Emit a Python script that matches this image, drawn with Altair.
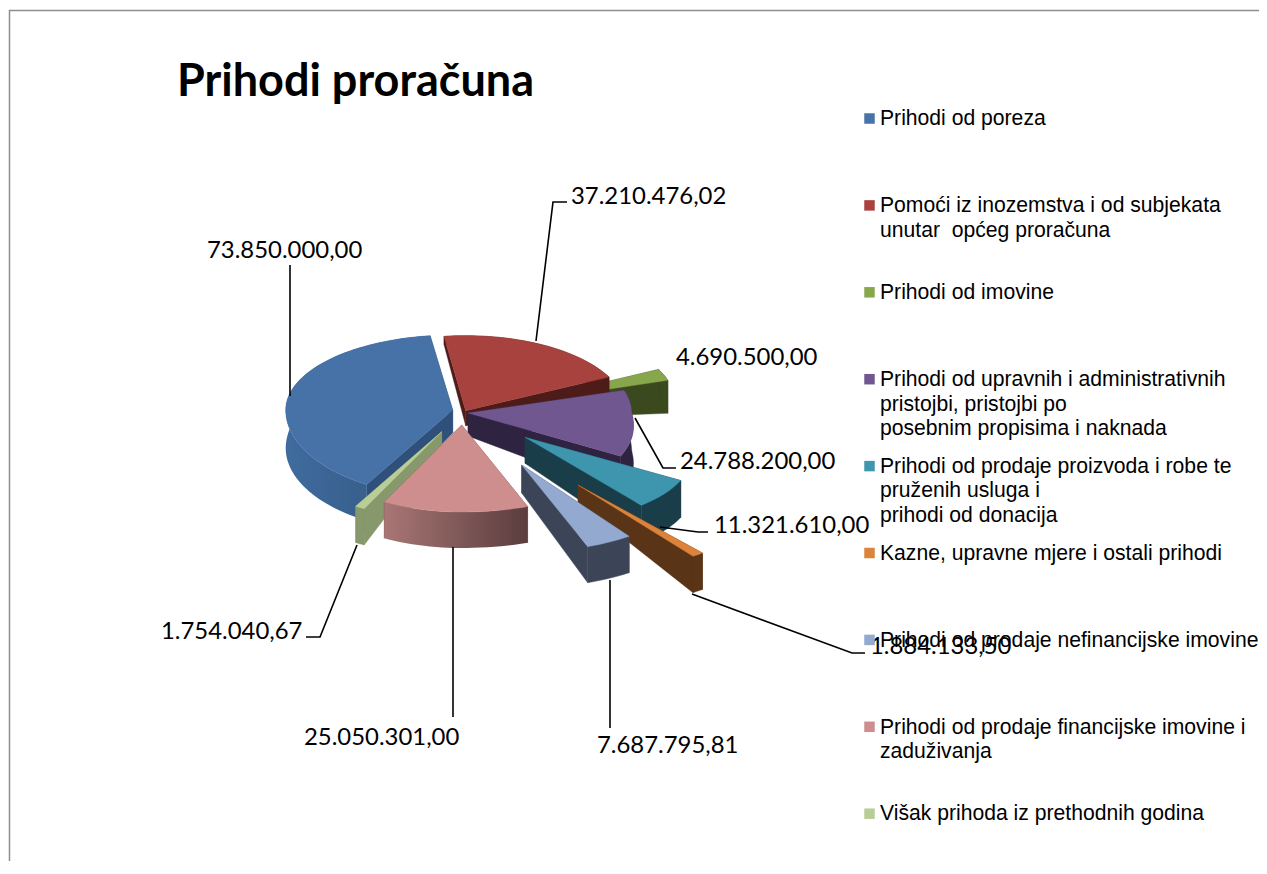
import math
import altair as alt
import pandas as pd

# ---- chart values ----
categories = [
    "Prihodi od poreza",
    "Pomoći iz inozemstva i od subjekata\nunutar\u00a0 općeg proračuna",
    "Prihodi od imovine",
    "Prihodi od upravnih i administrativnih\npristojbi, pristojbi po\nposebnim propisima i naknada",
    "Prihodi od prodaje proizvoda i robe te\npruženih usluga i\nprihodi od donacija",
    "Kazne, upravne mjere i ostali prihodi",
    "Prihodi od prodaje nefinancijske imovine",
    "Prihodi od prodaje financijske imovine i\nzaduživanja",
    "Višak prihoda iz prethodnih godina",
]
values = [73850000.00, 37210476.02, 4690500.00, 24788200.00, 11321610.00,
          1884133.50, 7687795.81, 25050301.00, 1754040.67]
labels = ["73.850.000,00", "37.210.476,02", "4.690.500,00", "24.788.200,00", "11.321.610,00",
          "1.884.133,50", "7.687.795,81", "25.050.301,00", "1.754.040,67"]
title_text = "Prihodi proračuna"

# ---- styles ----
top_colors = ["#4672A8", "#A8423F", "#88A64B", "#71578F", "#3D96AE", "#DC823A", "#93A9CF", "#CE8E8D", "#B9CD96"]
legend_colors = ["#4673A8", "#A9423F", "#88A64B", "#71578F", "#4096AE", "#DB843C", "#93A9CF", "#CE8E8D", "#B9CD96"]
wall_colors = ["#2F507A", "#4D1B18", "#3A4A1E", "#2E2340", "#1A3D4A", "#5A3417", "#3C4557", "#6B4A4A", "#86986C"]
rim_colors = [("#3F6B9E", "#33567F"), ("#4D1B18", "#4D1B18"), ("#3A4A1E", "#3A4A1E"), ("#2E2340", "#2E2340"),
              ("#1A3D4A", "#1A3D4A"), ("#5A3417", "#5A3417"), ("#3C4557", "#3C4557"), ("#A87675", "#5A3D3D"),
              ("#86986C", "#86986C")]
tips = [(452.7, 410), (465.7, 410.7), (516.7, 403), (468, 413), (525, 437.3),
        (578, 485), (521.7, 465), (461.7, 425), (441.7, 431.7)]
tip_depths = [23, 15, 16, 23, 26, 17, 28, 23, 12]
x_stretch = [1.0, 0.96, 0.95, 0.98, 1.0, 1.07, 1.0, 1.0, 1.0]
draw_order = [2, 1, 0, 3, 4, 5, 6, 8, 7]
first_angle = 211.0
label_pos = [(207, 251), (571, 197), (676, 358), (680, 462), (714, 526),
             (870, 647), (597, 746), (304, 738), (161, 632)]
leaders = [
    [(290, 265), (290, 396)],
    [(567, 202), (553, 202), (536, 341)],
    [(635, 418), (663, 468), (676, 468)],
    [(660, 527), (698, 532), (708, 532)],
    [(692, 594), (852, 653), (865, 653)],
    [(610, 580), (610, 728)],
    [(453, 547), (453, 717)],
    [(357, 545), (320, 637), (306, 637)],
]

W, H, M = 1251, 853, 8
RX, RY_UP, RY_DOWN = 167.0, 75.0, 87.0


def rim_pt(tip, deg, stretch):
    a = math.radians(deg)
    s, c = math.sin(a), math.cos(a)
    v = -c
    grow = 1 + 0.15 * max(0.0, v) if s > 0 else 1.0
    return (tip[0] + RX * s * grow * stretch, tip[1] + (RY_DOWN if v > 0 else RY_UP) * v)


def rim_depth(deg):
    v = -math.cos(math.radians(deg))
    return 38.0 - 2.0 * v if v >= 0 else 38.0 - 30.0 * abs(v) ** 1.5


def feature(points):
    ring = [[x - M, y - M] for x, y in points]
    ring.append(ring[0])
    return {"type": "Feature", "properties": {}, "geometry": {"type": "Polygon", "coordinates": [ring]}}


def poly(points, fill):
    stroke = fill if isinstance(fill, str) else None
    kw = {"stroke": stroke, "strokeWidth": 0.4} if stroke else {"strokeWidth": 0}
    return alt.Chart(alt.Data(values=[feature(points)])).mark_geoshape(fill=fill, **kw).project(
        type="identity", scale=1, translate=[0, 0])


total = sum(values)
spans = {}
angle = first_angle
for i, val in enumerate(values):
    sweep = val / total * 360.0
    spans[i] = (angle, angle + sweep)
    angle += sweep

xs = alt.X("x:Q", axis=None, scale=alt.Scale(domain=[0, W], range=[0, W]))
ys = alt.Y("y:Q", axis=None, scale=alt.Scale(domain=[0, H], range=[0, H]))

layers = []

# frame
frame = pd.DataFrame({"o": [0, 1, 2], "x": [1.5, 1.5, W], "y": [H, 2.5, 2.5]})
layers.append(alt.Chart(frame).mark_line(color="#8E8E8E", strokeWidth=1.5).encode(x=xs, y=ys, order="o:Q"))

# pie slices, back to front
for i in draw_order:
    start, end = spans[i]
    tip = tips[i]
    n = max(3, int((end - start) / 2))
    degs = [start + (end - start) * k / n for k in range(n + 1)]
    top_arc = [rim_pt(tip, d, x_stretch[i]) for d in degs]
    low_arc = [(p[0], p[1] + rim_depth(d)) for p, d in zip(top_arc, degs)]
    tip_low = (tip[0], tip[1] + tip_depths[i])
    for k in (0, -1):
        layers.append(poly([tip, top_arc[k], low_arc[k], tip_low], wall_colors[i]))
    c0, c1 = rim_colors[i]
    rim_fill = c0 if c0 == c1 else alt.Gradient(
        gradient="linear", x1=0, y1=0, x2=1, y2=0,
        stops=[alt.GradientStop(offset=0, color=c0), alt.GradientStop(offset=1, color=c1)])
    layers.append(poly(top_arc + low_arc[::-1], rim_fill))
    layers.append(poly([tip] + top_arc, top_colors[i]))

# leader lines
rows = []
for j, pts in enumerate(leaders):
    for o, (x, y) in enumerate(pts):
        rows.append({"id": j, "o": o, "x": x - M, "y": y - M})
layers.append(alt.Chart(pd.DataFrame(rows)).mark_line(color="#000000", strokeWidth=1.6).encode(
    x=xs, y=ys, detail="id:N", order="o:Q"))

# data labels
lab_df = pd.DataFrame({"t": labels,
                       "x": [p[0] - M for p in label_pos],
                       "y": [p[1] - M for p in label_pos]})
layers.append(alt.Chart(lab_df).mark_text(font="Lato", fontSize=23.9, align="left", baseline="middle",
                                          color="#000000").encode(x=xs, y=ys, text="t:N"))

# title
layers.append(alt.Chart(pd.DataFrame({"t": [title_text], "x": [177 - M], "y": [82 - M]})).mark_text(
    font="Lato", fontWeight="bold", fontSize=45, align="left", baseline="middle", color="#000000"
).encode(x=xs, y=ys, text="t:N"))

# legend
LEG_Y0, LEG_STEP, LINE_STEP = 118.5, 86.9, 24.6
sq, txt = [], []
for k, cat in enumerate(categories):
    y0 = LEG_Y0 + LEG_STEP * k
    sq.append({"x": 869.5 - M, "y": y0 - M, "c": legend_colors[k]})
    for ln, line in enumerate(cat.split("\n")):
        txt.append({"x": 880 - M, "y": y0 + 0.7 + LINE_STEP * ln - M, "t": line})
layers.append(alt.Chart(pd.DataFrame(txt)).mark_text(font="Liberation Sans", fontSize=21.15, align="left",
                                                     baseline="middle", color="#000000").encode(x=xs, y=ys, text="t:N"))
layers.append(alt.Chart(pd.DataFrame(sq)).mark_square(size=110, opacity=1).encode(
    x=xs, y=ys, color=alt.Color("c:N", scale=None)))

chart = alt.layer(*layers).properties(
    width=W, height=H, padding=0, background="white", autosize=alt.AutoSizeParams(type="none")
).configure_view(stroke=None)
chart.save("out.html", embed_options={"renderer": "svg", "actions": False})
